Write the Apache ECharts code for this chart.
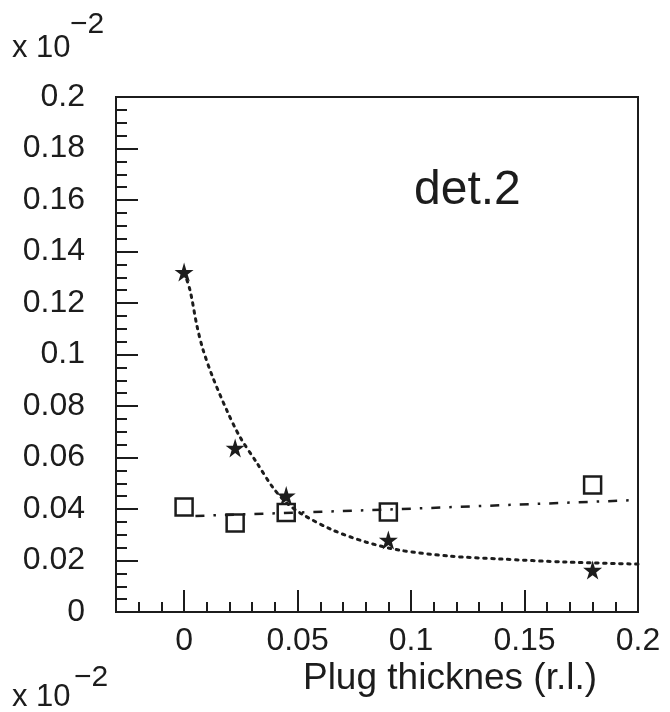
<!DOCTYPE html>
<html>
<head>
<meta charset="utf-8">
<script src="https://cdn.jsdelivr.net/npm/echarts@6/dist/echarts.min.js"></script>
<style>
html,body{margin:0;padding:0;background:#fff;}
#chart{width:670px;height:712px;}
</style>
</head>
<body>
<div id="chart"></div>
<script>
// measured points (x in r.l., y in units of 10^-2)
var starX = [0, 0.0225, 0.045, 0.09, 0.18];
var starY = [0.132, 0.0637, 0.0452, 0.0280, 0.0163];
var boxX = [0, 0.0225, 0.045, 0.09, 0.18];
var boxY = [0.0408, 0.0346, 0.0386, 0.0388, 0.0493];
// dotted fit curve
var fitX = [0, 0.0026, 0.0057, 0.0083, 0.0127, 0.019, 0.0246, 0.032, 0.039, 0.045, 0.052, 0.065, 0.080, 0.095, 0.117, 0.139, 0.168, 0.2];
var fitY = [0.132, 0.125, 0.111, 0.102, 0.091, 0.078, 0.068, 0.058, 0.0485, 0.0425, 0.038, 0.032, 0.0272, 0.024, 0.0217, 0.0206, 0.0194, 0.0186];
// dash-dot fit line
var lineX = [0.005, 0.09, 0.2];
var lineY = [0.0373, 0.0398, 0.0435];
var xTicks = [0, 0.05, 0.1, 0.15, 0.2];

var ink = '#1c1c1c';
var fontFam = '"Liberation Sans", Arial, sans-serif';
var starPath = 'path://M50,0 L61,35 L98,35 L68,57 L79,91 L50,70 L21,91 L32,57 L2,35 L39,35 Z';

function pairs(xs, ys){
	var out = [];
	for(var i=0; i<xs.length; i++){
		out.push([xs[i], ys[i]]);
	}
	return out;
}

var chart = echarts.init(document.getElementById('chart'));
var option = {
	backgroundColor: '#fff',
	animation: false,
	grid: {
		left: 116, right: 32, top: 97, bottom: 100,
		show: true, borderColor: ink, borderWidth: 2, backgroundColor: 'transparent'
	},
	xAxis: [
		{
			type: 'value', min: -0.03, max: 0.2, position: 'bottom',
			axisLine: {show: true, onZero: false, lineStyle: {color: ink, width: 2}},
			axisTick: {show: true, inside: true, length: 22, customValues: xTicks, lineStyle: {color: ink, width: 2}},
			axisLabel: {customValues: xTicks, margin: 13, color: ink, fontSize: 32, fontFamily: fontFam},
			splitLine: {show: false}
		},
		{
			type: 'value', min: -0.03, max: 0.2, interval: 0.01, position: 'bottom',
			axisLine: {show: false, onZero: false},
			axisTick: {show: true, inside: true, length: 10, lineStyle: {color: ink, width: 2}},
			axisLabel: {show: false},
			splitLine: {show: false}
		}
	],
	yAxis: {
		type: 'value', min: 0, max: 0.2, interval: 0.02,
		axisLine: {show: true, onZero: false, lineStyle: {color: ink, width: 2}},
		axisTick: {show: true, inside: true, length: 22, lineStyle: {color: ink, width: 2}},
		minorTick: {show: true, splitNumber: 4, length: 11, lineStyle: {color: ink, width: 2}},
		axisLabel: {margin: 31, color: ink, fontSize: 32, fontFamily: fontFam},
		splitLine: {show: false}
	},
	series: [
		{
			type: 'line', data: pairs(fitX, fitY), smooth: 0.3, showSymbol: false, symbol: 'none',
			lineStyle: {color: ink, width: 3, type: [2.5, 5.5], cap: 'round'}
		},
		{
			type: 'line', data: pairs(lineX, lineY), showSymbol: false, symbol: 'none',
			lineStyle: {color: ink, width: 2.5, type: [9, 9, 2.5, 9]}
		},
		{
			type: 'scatter', data: pairs(starX, starY), symbol: starPath, symbolSize: 19,
			itemStyle: {color: ink, opacity: 1}
		},
		{
			type: 'scatter', data: pairs(boxX, boxY), symbol: 'rect', symbolSize: 17,
			itemStyle: {color: 'transparent', borderColor: ink, borderWidth: 2.5, opacity: 1}
		}
	],
	graphic: [
		{type: 'text', left: 414, top: 167, style: {text: 'det.2', font: '48px ' + fontFam, fill: ink, verticalAlign: 'middle'}},
		{type: 'text', x: 450, y: 679, style: {text: 'Plug thicknes (r.l.)', font: '37px ' + fontFam, fill: ink, align: 'center', verticalAlign: 'middle'}},
		{type: 'text', x: 12, y: 64, style: {text: 'x 10', font: '31px ' + fontFam, fill: ink, verticalAlign: 'bottom'}},
		{type: 'text', x: 70, y: 40, style: {text: '\u22122', font: '30px ' + fontFam, fill: ink, verticalAlign: 'bottom'}},
		{type: 'text', x: 12, y: 713, style: {text: 'x 10', font: '31px ' + fontFam, fill: ink, verticalAlign: 'bottom'}},
		{type: 'text', x: 74, y: 693, style: {text: '\u22122', font: '30px ' + fontFam, fill: ink, verticalAlign: 'bottom'}}
	]
};
chart.setOption(option);
</script>
</body>
</html>
